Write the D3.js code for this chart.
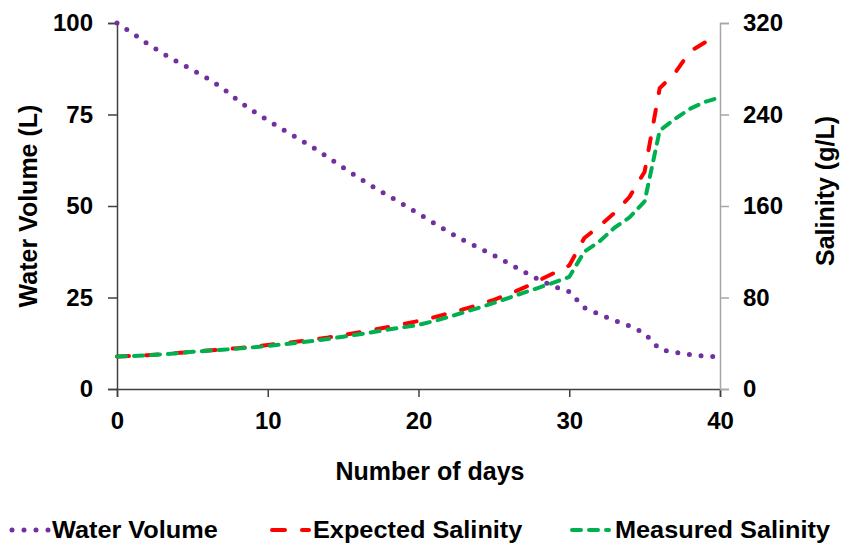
<!DOCTYPE html>
<html>
<head>
<meta charset="UTF-8">
<title>Water volume and salinity</title>
<script src="https://d3js.org/d3.v7.min.js"></script>
<style>
    body { margin: 0; background: #fff; }
    svg { display: block; }
    text { font-family: "Liberation Sans", Arial, sans-serif; font-weight: bold; fill: #000; }
</style>
</head>
<body>
<svg id="chart" width="842" height="546"></svg>
<script>
// days on the x axis
var days = [0, 1, 2, 3, 4, 5, 6, 7, 8, 9, 10, 11, 12, 13, 14, 15, 16, 17, 18, 19, 20,
    21, 22, 23, 24, 25, 26, 27, 28, 29, 30, 31, 32, 33, 34, 35, 36, 37, 38, 39, 40];

// water volume (L), left axis
var waterVolume = [100, 97.3, 94.4, 91.8, 89.4, 87.2, 84.9, 82.2, 78.9, 76.0, 73.4,
    70.9, 68.5, 66.0, 63.3, 60.5, 57.8, 55.2, 52.8, 50.4, 47.9,
    45.4, 42.9, 40.6, 38.6, 36.5, 34.3, 32.0, 29.8, 28.0, 26.6,
    22.2, 20.4, 18.7, 17.2, 15.2, 10.8, 10.0, 9.4, 9.0, 8.8];

// salinity (g/L), right axis
var expectedSalinity = [28.5, 28.9, 29.6, 30.5, 31.5, 32.6, 33.6, 34.6, 35.7, 36.9, 38.5,
    40.0, 41.5, 43.2, 45.0, 47.1, 49.4, 51.8, 54.2, 56.8, 59.5,
    62.6, 66.2, 69.8, 73.6, 78.0, 83.0, 88.6, 95.0, 101.5, 108.0,
    132.0, 142.5, 154.0, 168.0, 190.0, 263.0, 276.0, 295.0, 303.0, 309.0];

var measuredSalinity = [28.5, 28.8, 29.4, 30.3, 31.3, 32.5, 33.4, 34.3, 35.3, 36.4, 37.7,
    39.0, 40.5, 42.0, 43.8, 45.7, 47.7, 49.8, 52.0, 54.0, 56.0,
    59.3, 63.0, 67.0, 71.0, 75.3, 79.7, 84.3, 88.7, 93.2, 98.0,
    120.0, 129.0, 141.0, 150.0, 164.0, 226.0, 236.0, 245.0, 251.0, 255.0];

var xTicks = [0, 10, 20, 30, 40];
var leftTicks = [0, 25, 50, 75, 100];
var rightTicks = [0, 80, 160, 240, 320];

var seriesNames = ["Water Volume", "Expected Salinity", "Measured Salinity"];

var svg = d3.select("#chart");

var x = d3.scaleLinear().domain([0, 40]).range([117, 720]);
var yLeft = d3.scaleLinear().domain([0, 100]).range([389, 23]);
var yRight = d3.scaleLinear().domain([0, 320]).range([389, 23]);

var dark = "#404040", grey = "#a6a6a6";

// axes
var gx = svg.append("g")
    .attr("transform", "translate(0,389)")
    .call(d3.axisBottom(x).tickValues(xTicks).tickSize(8).tickPadding(14));
gx.select(".domain").attr("stroke", dark).attr("stroke-width", 1.5);
gx.selectAll(".tick line").attr("stroke", dark).attr("stroke-width", 1.5);

var gl = svg.append("g")
    .attr("transform", "translate(117,0)")
    .call(d3.axisLeft(yLeft).tickValues(leftTicks).tickSize(9).tickPadding(15));
gl.select(".domain").attr("stroke", dark).attr("stroke-width", 1.5);
gl.selectAll(".tick line").attr("stroke", dark).attr("stroke-width", 1.5);

var gr = svg.append("g")
    .attr("transform", "translate(720,0)")
    .call(d3.axisRight(yRight).tickValues(rightTicks).tickSize(9).tickPadding(14));
gr.select(".domain").attr("stroke", grey).attr("stroke-width", 1.5);
gr.selectAll(".tick line").attr("stroke", grey).attr("stroke-width", 1.5);

svg.selectAll(".tick text")
    .attr("font-size", "24px")
    .attr("font-family", "Liberation Sans, Arial, sans-serif")
    .attr("font-weight", "bold")
    .attr("fill", "#000");
gx.selectAll(".tick text").attr("dy", "0.75em");

// axis titles
svg.append("text")
    .attr("x", 430).attr("y", 480)
    .attr("text-anchor", "middle")
    .attr("font-size", "25px")
    .text("Number of days");

svg.append("text")
    .attr("transform", "translate(37,206) rotate(-90)")
    .attr("text-anchor", "middle")
    .attr("font-size", "25px")
    .text("Water Volume (L)");

svg.append("text")
    .attr("transform", "translate(834,191) rotate(-90)")
    .attr("text-anchor", "middle")
    .attr("font-size", "25px")
    .text("Salinity (g/L)");

// lines
var styles = [
    { color: "#7030a0", width: 5, dash: "0,11.7" },
    { color: "#ff0000", width: 4, dash: "12,17" },
    { color: "#00b050", width: 4, dash: "9,8" }
];

var volLine = d3.line()
    .x(function (d, i) { return x(days[i]); })
    .y(function (d) { return yLeft(d); });
var salLine = d3.line()
    .x(function (d, i) { return x(days[i]); })
    .y(function (d) { return yRight(d); });

var lines = [
    { data: waterVolume, gen: volLine },
    { data: expectedSalinity, gen: salLine },
    { data: measuredSalinity, gen: salLine }
];

lines.forEach(function (l, i) {
    svg.append("path")
        .attr("d", l.gen(l.data))
        .attr("fill", "none")
        .attr("stroke", styles[i].color)
        .attr("stroke-width", styles[i].width)
        .attr("stroke-dasharray", styles[i].dash)
        .attr("stroke-linecap", "round")
        .attr("stroke-linejoin", "round");
});

// legend
var legendX = [12, 272, 572];
var legendText = [52, 313, 615];
var legend = svg.append("g");
seriesNames.forEach(function (name, i) {
    legend.append("line")
        .attr("x1", legendX[i]).attr("x2", legendX[i] + 37)
        .attr("y1", 530).attr("y2", 530)
        .attr("stroke", styles[i].color)
        .attr("stroke-width", styles[i].width)
        .attr("stroke-dasharray", i == 0 ? "0,12" : (i == 1 ? "13,17" : styles[i].dash))
        .attr("stroke-linecap", "round");
    legend.append("text")
        .attr("transform", "translate(" + legendText[i] + ",538) scale(1.1,1)")
        .attr("font-size", "23px")
        .text(name);
});
</script>
</body>
</html>
